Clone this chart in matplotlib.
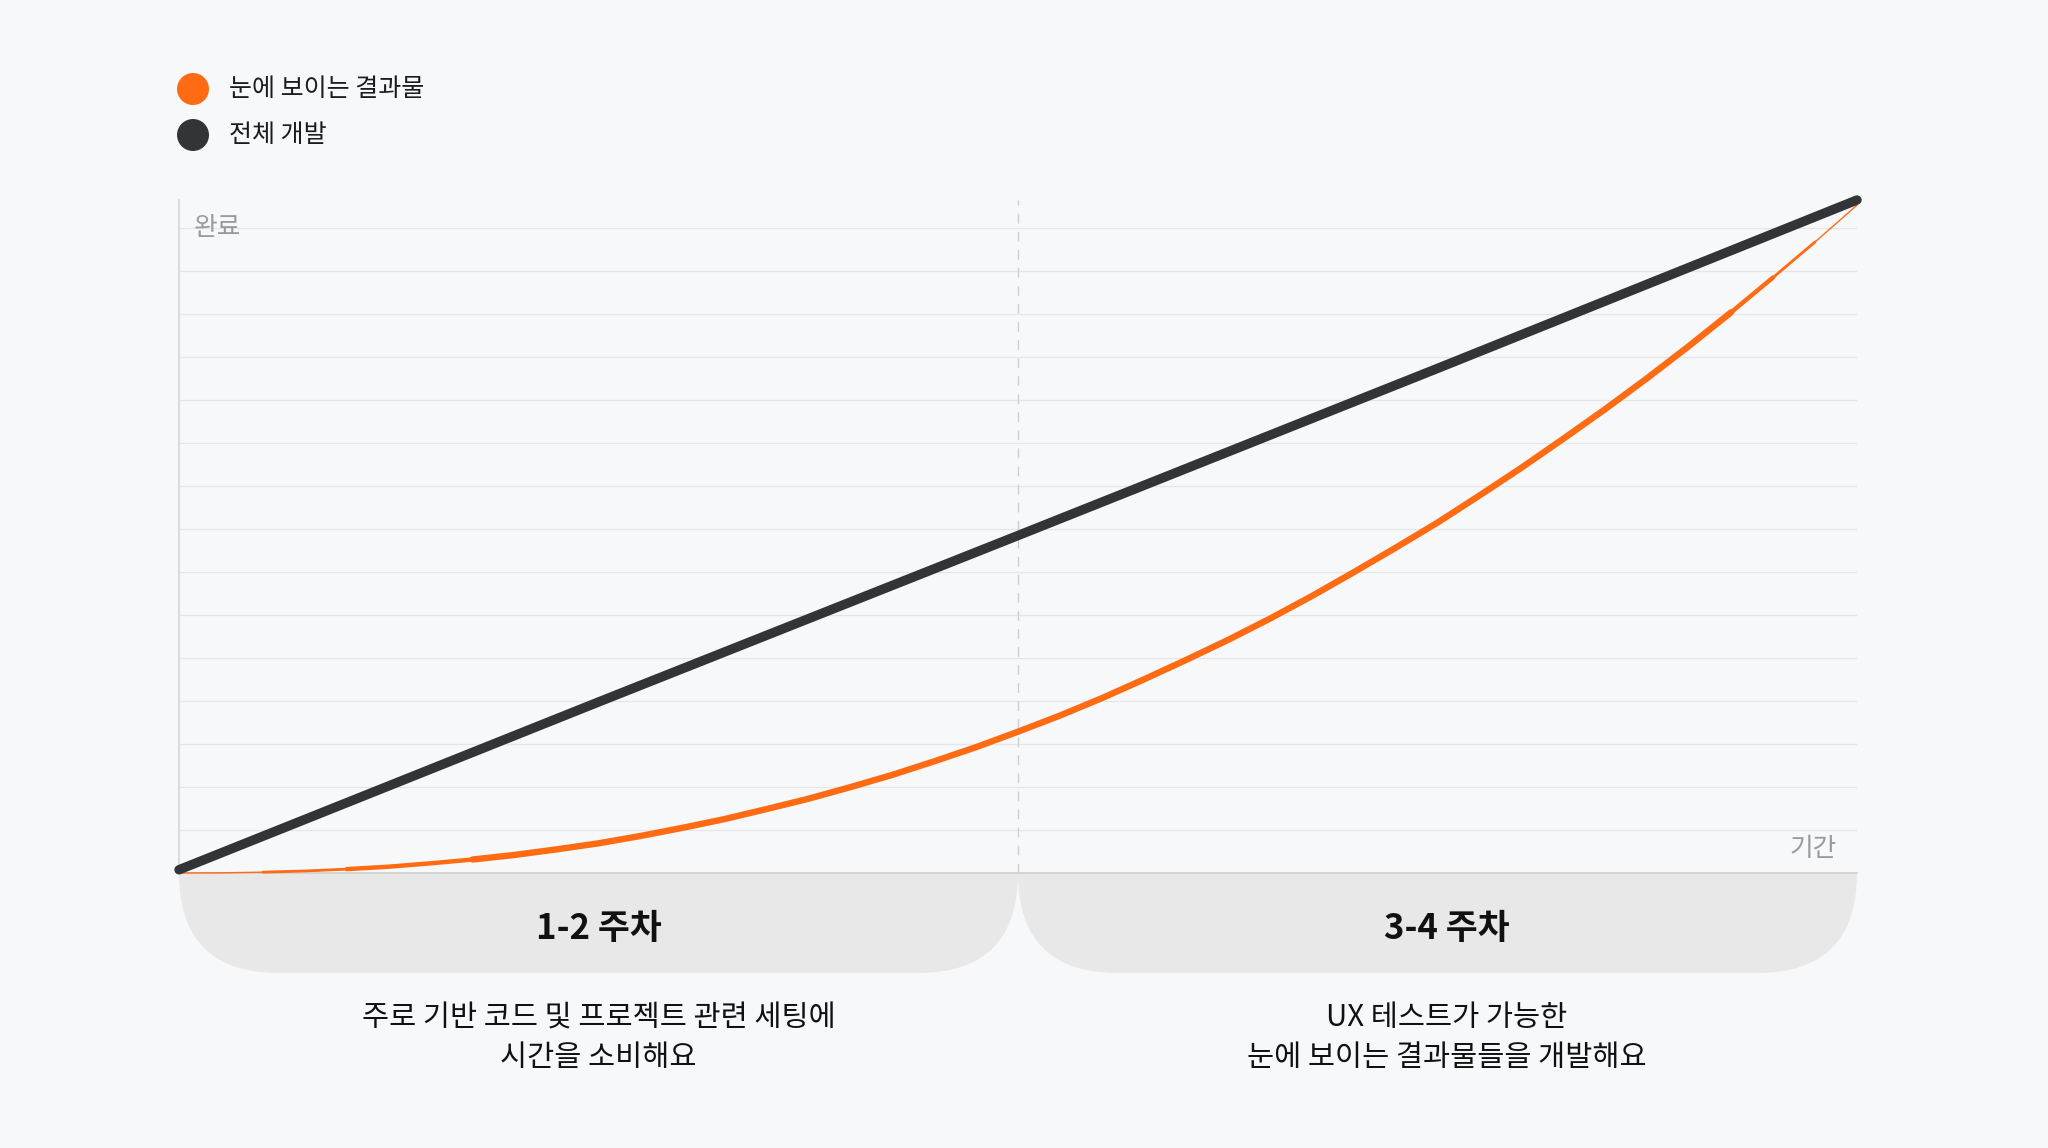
import matplotlib
matplotlib.use("Agg")
import matplotlib.pyplot as plt
from matplotlib.patches import FancyBboxPatch, Rectangle, Circle

plt.rcParams["font.family"] = ["Noto Sans CJK KR", "DejaVu Sans"]

# data (x in weeks, y in % of completion)
weeks = [0.0, 0.1, 0.2, 0.3, 0.4, 0.5, 0.6, 0.7, 0.8, 0.9, 1.0,
         1.1, 1.2, 1.3, 1.4, 1.5, 1.6, 1.7, 1.8, 1.9, 2.0,
         2.1, 2.2, 2.3, 2.4, 2.5, 2.6, 2.7, 2.8, 2.9, 3.0,
         3.1, 3.2, 3.3, 3.4, 3.5, 3.6, 3.7, 3.8, 3.9, 4.0]
visible = [0.0, 0.03, 0.13, 0.31, 0.6, 0.98, 1.5, 2.09, 2.8, 3.66, 4.6,
           5.74, 7.0, 8.35, 9.9, 11.5, 13.3, 15.2, 17.3, 19.5, 21.9,
           24.4, 27.1, 30.0, 33.0, 36.1, 39.4, 42.9, 46.6, 50.4, 54.3,
           58.5, 62.8, 67.3, 71.9, 76.7, 81.7, 86.9, 92.3, 97.8, 103.5]
total_x = [0.0, 1.0, 2.0, 3.0, 4.0]
total_y = [0.5, 26.5, 52.3, 78.2, 104.3]

series_names = ["눈에 보이는 결과물", "전체 개발"]
phase_titles = ["1-2 주차", "3-4 주차"]
phase_notes = [["주로 기반 코드 및 프로젝트 관련 세팅에", "시간을 소비해요"],
               ["UX 테스트가 가능한", "눈에 보이는 결과물들을 개발해요"]]

BG = "#f7f8fa"
ORANGE = "#ff6b12"
DARK = "#333438"
W, H = 2048, 1148
L, R, T, B = 179, 1857, 200, 873

fig = plt.figure(figsize=(W / 100, H / 100), dpi=100, facecolor=BG)

# overlay in pixel coordinates
ov = fig.add_axes([0, 0, 1, 1], zorder=0)
ov.set_xlim(0, W)
ov.set_ylim(H, 0)
ov.axis("off")
ov.set_facecolor(BG)

mid = (L + R) / 2
band_bottom = 973
text_shift = [0, 9]
for i, (x0, x1) in enumerate([(L, mid), (mid, R)]):
    clip = Rectangle((x0, B), x1 - x0, band_bottom - B, transform=ov.transData)
    box = FancyBboxPatch((x0, B - 100), x1 - x0, band_bottom - B + 100,
                         boxstyle="round,pad=0,rounding_size=100",
                         fc="#e8e8e9", ec="none")
    ov.add_patch(box)
    box.set_clip_path(clip)
    cx = (x0 + x1) / 2 + text_shift[i]
    ov.text(cx, 928, phase_titles[i], ha="center", va="center",
            fontsize=25, fontweight="bold", color="#111111")
    ov.text(cx, 1018, phase_notes[i][0], ha="center", va="center",
            fontsize=21.2, fontweight="medium", color="#111111")
    ov.text(cx, 1058, phase_notes[i][1], ha="center", va="center",
            fontsize=21.2, fontweight="medium", color="#111111")

# legend
for name, col, y in zip(series_names, [ORANGE, DARK], [89, 135]):
    ov.add_patch(Circle((193, y), 16, fc=col, ec="none"))
    ov.text(229, y, name, ha="left", va="center", fontsize=18, color="#1c1c1e")

# main chart
ax = fig.add_axes([L / W, (H - B) / H, (R - L) / W, (B - T) / H], zorder=1)
ax.patch.set_alpha(0)
ax.set_xlim(0, 4)
ax.set_ylim(0, 104.3)
for k in range(1, 16):
    ax.axhline(k * 100 / 15, color="#e6e6e8", lw=0.9, zorder=0)
ax.axvline(2, color="#cfcfd2", lw=1.0, dashes=(7, 6), zorder=0)

for s in ["top", "right"]:
    ax.spines[s].set_visible(False)
ax.spines["left"].set_color("#d6d6d8")
ax.spines["left"].set_linewidth(1.2)
ax.spines["bottom"].set_color("#cfcfd2")
ax.spines["bottom"].set_linewidth(1.2)
ax.set_xticks([])
ax.set_yticks([])

# orange stroke tapers towards both ends
for a, b, lw in [(0, None, 1.0), (2, -1, 2.0), (4, -2, 3.2), (7, -3, 4.6)]:
    ax.plot(weeks[a:b], visible[a:b], color=ORANGE, lw=lw, zorder=3,
            clip_on=False, solid_capstyle="round", solid_joinstyle="round")
ax.plot(total_x, total_y, color=DARK, lw=6.8, zorder=4, clip_on=False,
        solid_capstyle="round")

ax.text(0.009, 100, "완료", ha="left", va="center", fontsize=18.5,
        color="#9a9a9c", transform=ax.get_yaxis_transform())
ax.text(0.988, 3.7, "기간", ha="right", va="center", fontsize=18.5,
        color="#9a9a9c", transform=ax.get_yaxis_transform())

fig.savefig("out.png", dpi=100, facecolor=BG)
